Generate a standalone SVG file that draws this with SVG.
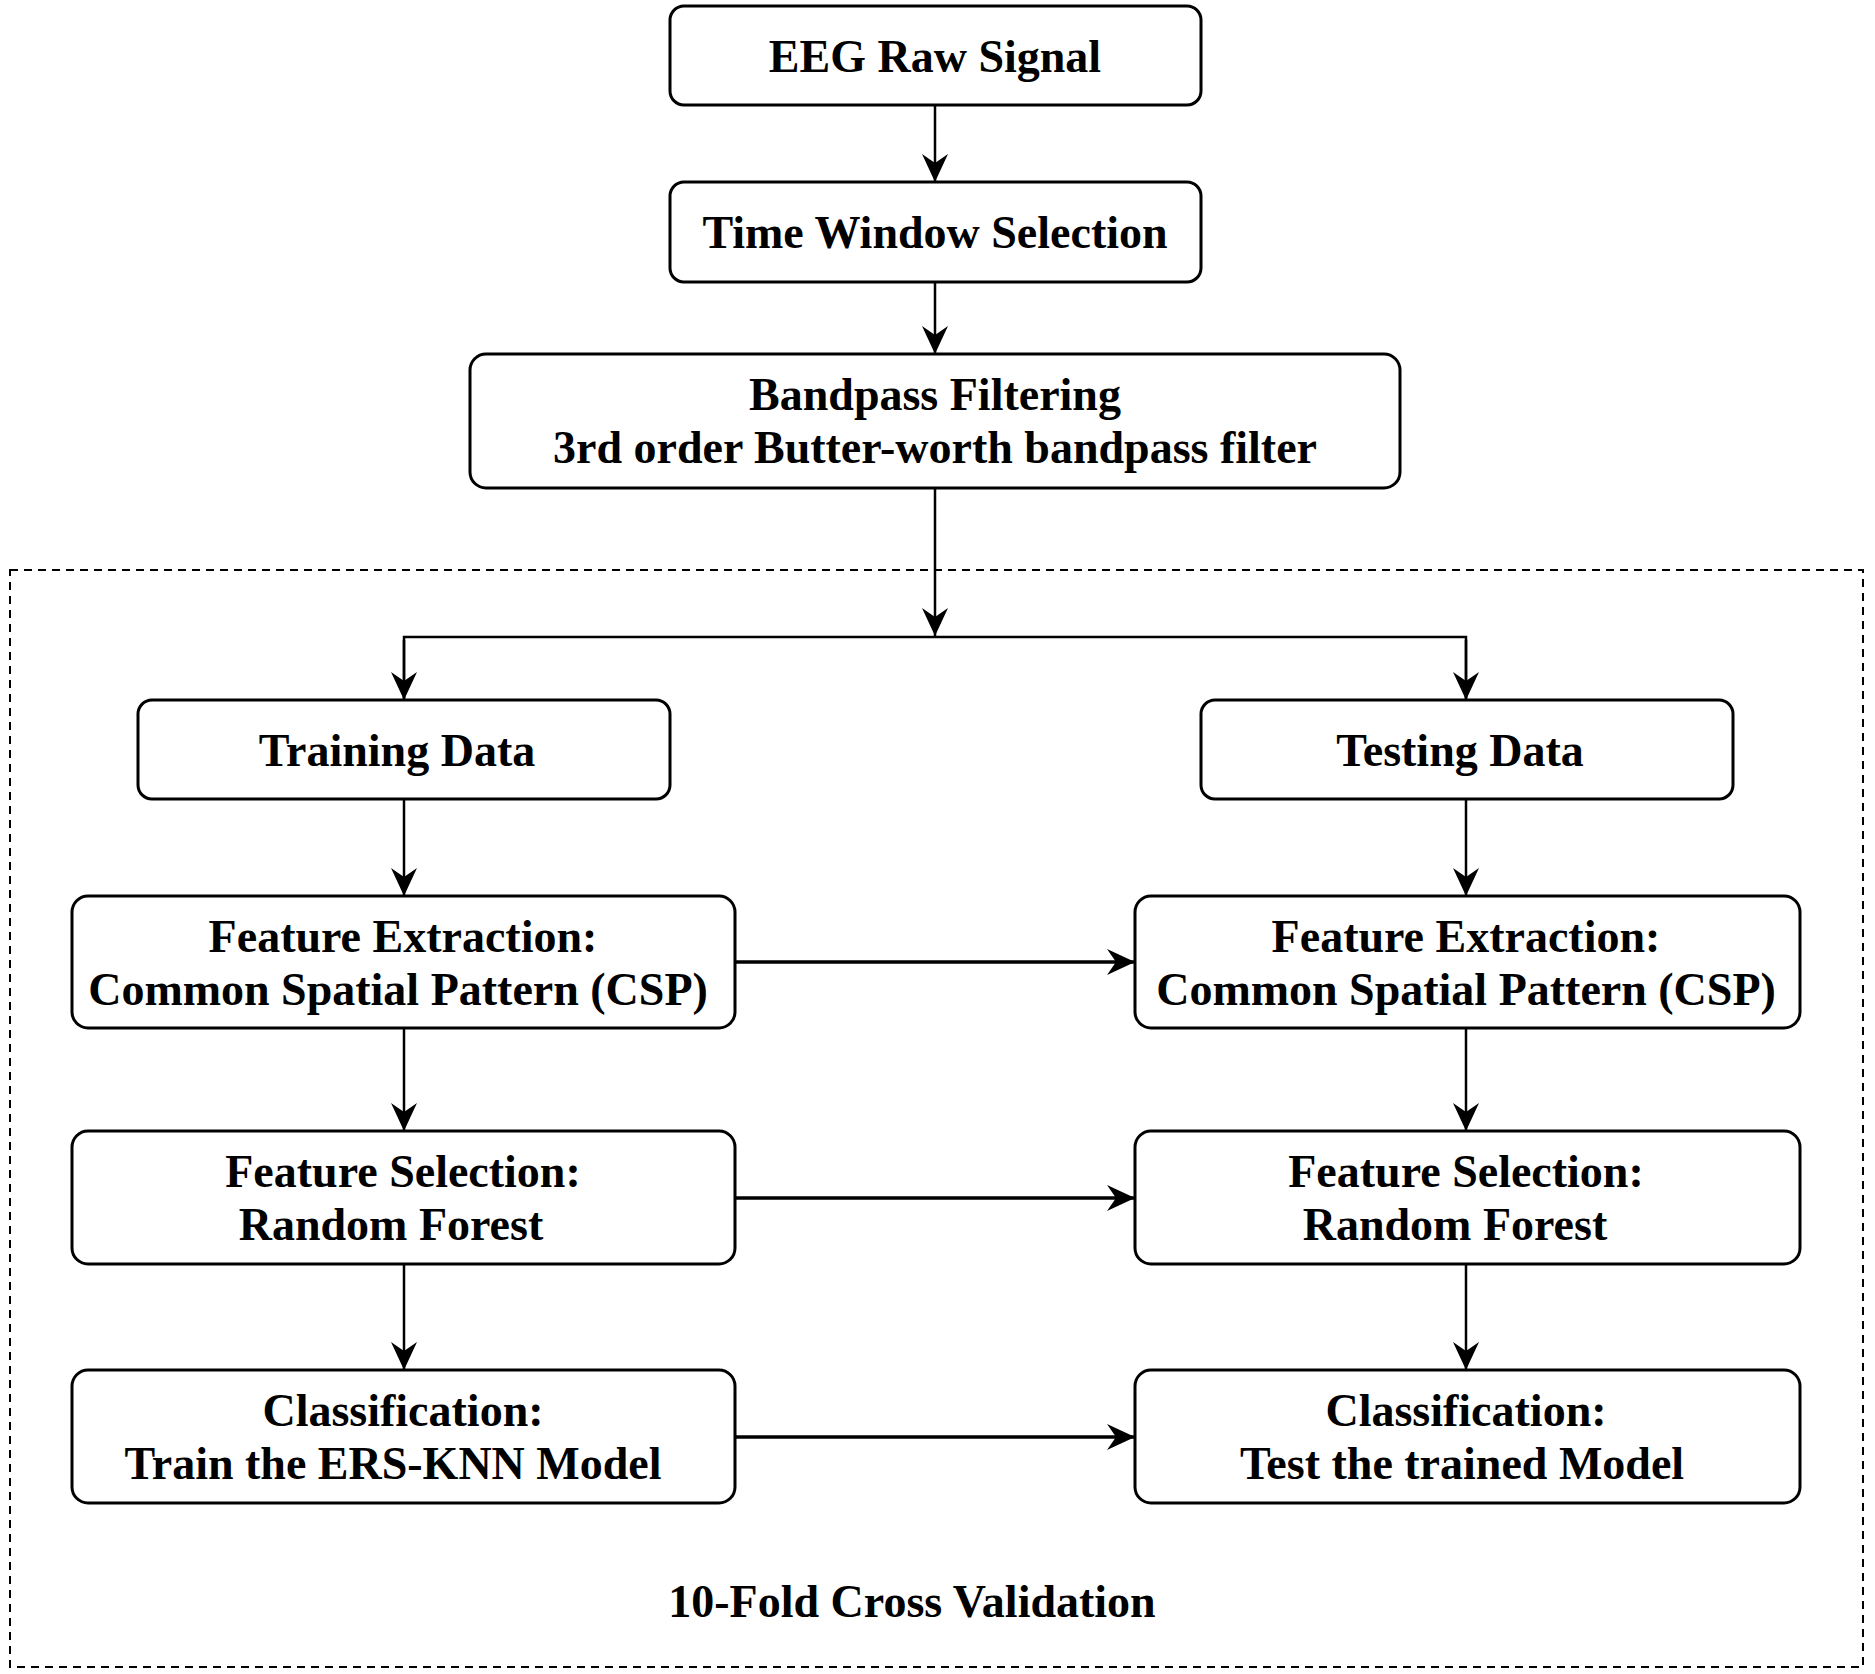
<svg xmlns="http://www.w3.org/2000/svg" width="1875" height="1674" viewBox="0 0 1875 1674">
<style>
.box{fill:#fff;stroke:#000;stroke-width:3}
.t{font-family:"Liberation Serif","Times New Roman",serif;font-weight:bold;font-size:46px;text-anchor:middle;fill:#000}
.c{fill:none;stroke:#000;stroke-width:2.5}
.h{fill:none;stroke:#000;stroke-width:3.5}
</style>
<defs>
<marker id="a" viewBox="0 0 28 28" refX="28" refY="14" markerWidth="28" markerHeight="28" markerUnits="userSpaceOnUse" orient="auto">
<path d="M0,1 L28,14 L0,27 L9,14 z" fill="#000"/>
</marker>
</defs>
<rect x="0" y="0" width="1875" height="1674" fill="#fff"/>
<rect id="cv" x="10" y="570" width="1853" height="1097" fill="none" stroke="#000" stroke-width="2" stroke-dasharray="8,6"/>
<g id="connectors">
<path class="c" d="M935,105 V182" marker-end="url(#a)"/>
<path class="c" d="M935,282 V354" marker-end="url(#a)"/>
<path class="c" d="M935,488 V636" marker-end="url(#a)"/>
<path class="c" d="M404,700 V637 H1466 V700" />
<path class="c" d="M404,640 V700" marker-end="url(#a)"/>
<path class="c" d="M1466,640 V700" marker-end="url(#a)"/>
<path class="c" d="M404,799 V896" marker-end="url(#a)"/>
<path class="c" d="M1466,799 V896" marker-end="url(#a)"/>
<path class="c" d="M404,1028 V1131" marker-end="url(#a)"/>
<path class="c" d="M1466,1028 V1131" marker-end="url(#a)"/>
<path class="c" d="M404,1264 V1370" marker-end="url(#a)"/>
<path class="c" d="M1466,1264 V1370" marker-end="url(#a)"/>
<path class="h" d="M735,962 H1135" marker-end="url(#a)"/>
<path class="h" d="M735,1198 H1135" marker-end="url(#a)"/>
<path class="h" d="M735,1437 H1135" marker-end="url(#a)"/>
</g>
<g id="eeg"><rect class="box" x="670" y="6" width="531" height="99" rx="14"/><text class="t" x="935" y="72">EEG Raw Signal</text></g>
<g id="tws"><rect class="box" x="670" y="182" width="531" height="100" rx="14"/><text class="t" x="935" y="248">Time Window Selection</text></g>
<g id="bpf"><rect class="box" x="470" y="354" width="930" height="134" rx="16"/><text class="t" x="935" y="410">Bandpass Filtering</text><text class="t" x="935" y="463">3rd order Butter-worth bandpass filter</text></g>
<g id="train"><rect class="box" x="138" y="700" width="532" height="99" rx="14"/><text class="t" x="397" y="766">Training Data</text></g>
<g id="test"><rect class="box" x="1201" y="700" width="532" height="99" rx="14"/><text class="t" x="1460" y="766">Testing Data</text></g>
<g id="fe1"><rect class="box" x="72" y="896" width="663" height="132" rx="16"/><text class="t" x="403" y="952">Feature Extraction:</text><text class="t" x="398" y="1005">Common Spatial Pattern (CSP)</text></g>
<g id="fe2"><rect class="box" x="1135" y="896" width="665" height="132" rx="16"/><text class="t" x="1466" y="952">Feature Extraction:</text><text class="t" x="1466" y="1005">Common Spatial Pattern (CSP)</text></g>
<g id="fs1"><rect class="box" x="72" y="1131" width="663" height="133" rx="16"/><text class="t" x="403" y="1187">Feature Selection:</text><text class="t" x="391" y="1240">Random Forest</text></g>
<g id="fs2"><rect class="box" x="1135" y="1131" width="665" height="133" rx="16"/><text class="t" x="1466" y="1187">Feature Selection:</text><text class="t" x="1455" y="1240">Random Forest</text></g>
<g id="cl1"><rect class="box" x="72" y="1370" width="663" height="133" rx="16"/><text class="t" x="403" y="1426">Classification:</text><text class="t" x="393" y="1479">Train the ERS-KNN Model</text></g>
<g id="cl2"><rect class="box" x="1135" y="1370" width="665" height="133" rx="16"/><text class="t" x="1466" y="1426">Classification:</text><text class="t" x="1462" y="1479">Test the trained Model</text></g>
<text class="t" x="912" y="1617">10-Fold Cross Validation</text>
</svg>
